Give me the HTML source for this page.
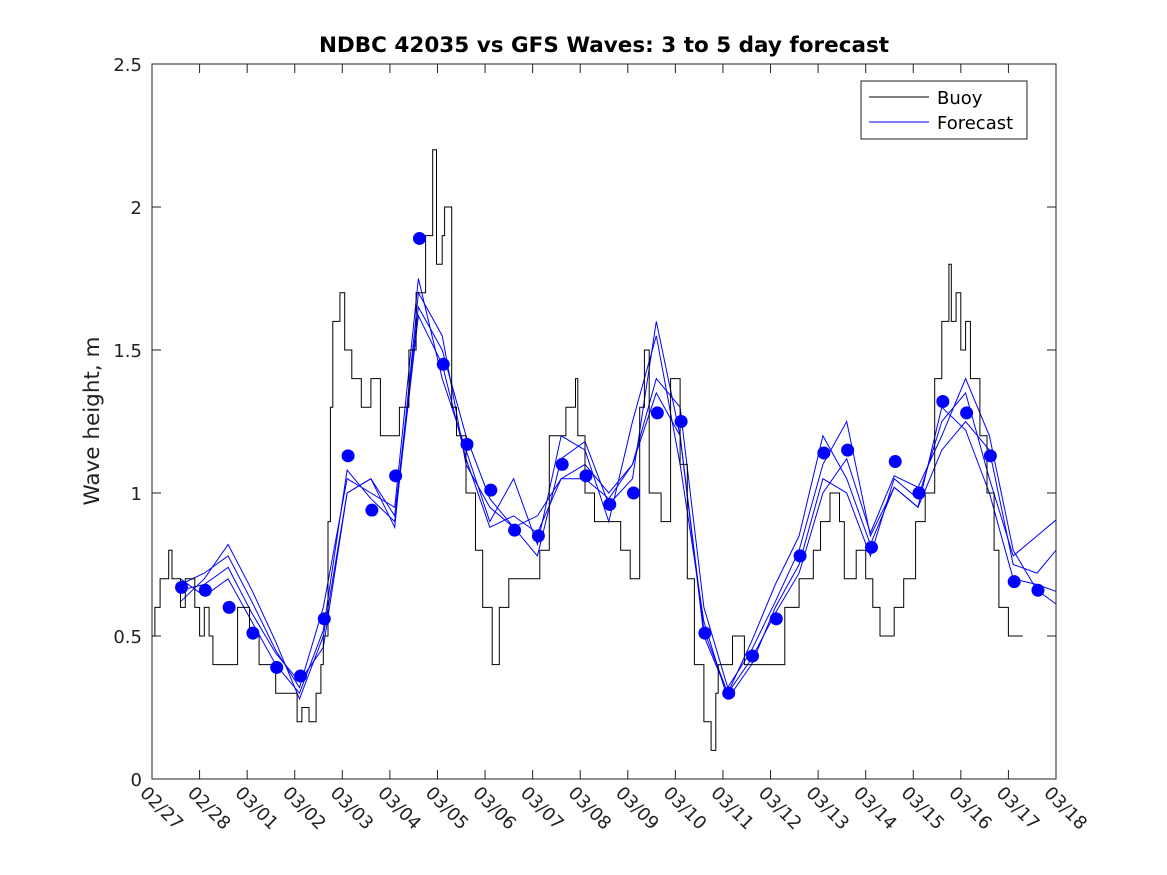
<!DOCTYPE html>
<html><head><meta charset="utf-8"><style>
body{margin:0;background:#fff}
svg{display:block;font-family:"DejaVu Sans","Liberation Sans",sans-serif}
</style></head><body>
<svg id="chart" width="1167" height="875" viewBox="0 0 1167 875">
<rect width="1167" height="875" fill="#fff"/>
<defs><clipPath id="pc"><rect x="152" y="64" width="904" height="715"/></clipPath></defs>
<text x="604" y="52" text-anchor="middle" font-size="21.5" font-weight="bold" fill="#000">NDBC 42035 vs GFS Waves: 3 to 5 day forecast</text>
<text transform="translate(99,421) rotate(-90)" text-anchor="middle" font-size="21.5" fill="#222">Wave height, m</text>
<g id="axes"></g>
<g id="series" clip-path="url(#pc)"></g>
<rect x="152" y="64" width="904" height="715" fill="none" stroke="#222" stroke-width="1"/>
<g>
<rect x="861" y="81" width="166" height="58" fill="#fff" stroke="#222"/>
<line x1="869" y1="97" x2="929" y2="97" stroke="#000"/>
<text x="937" y="104" font-size="18" fill="#000">Buoy</text>
<line x1="869" y1="122" x2="929" y2="122" stroke="#00f"/>
<text x="937" y="129" font-size="18" fill="#000">Forecast</text>
</g>
</svg>
<script>
const xTickLabels=["02/27","02/28","03/01","03/02","03/03","03/04","03/05","03/06","03/07","03/08","03/09","03/10","03/11","03/12","03/13","03/14","03/15","03/16","03/17","03/18"];
const yTicks=[0,0.5,1,1.5,2,2.5];
const yTickLabels=["0","0.5","1","1.5","2","2.5"];
const buoyDays=[0,0.06,0.17,0.35,0.42,0.6,0.7,0.9,1.0,1.1,1.2,1.28,1.8,2.05,2.25,2.5,2.6,2.9,3.05,3.15,3.3,3.45,3.55,3.6,3.7,3.75,3.8,3.95,4.05,4.2,4.4,4.6,4.8,4.9,5.2,5.4,5.55,5.75,5.9,5.98,6.1,6.15,6.3,6.4,6.6,6.8,6.95,7.15,7.3,7.5,7.85,8.15,8.35,8.7,8.9,8.95,9.1,9.3,9.6,9.85,10.05,10.25,10.35,10.45,10.7,10.9,11.1,11.25,11.4,11.6,11.75,11.85,11.9,12.0,12.2,12.45,13.0,13.3,13.6,13.9,14.05,14.25,14.45,14.55,14.8,15.0,15.15,15.3,15.6,15.8,16.05,16.25,16.45,16.6,16.75,16.8,16.9,17.0,17.1,17.2,17.4,17.55,17.7,17.8,18.0,18.3];
const buoyValues=[0.5,0.6,0.7,0.8,0.7,0.6,0.7,0.6,0.5,0.6,0.5,0.4,0.6,0.5,0.4,0.4,0.3,0.3,0.2,0.25,0.2,0.3,0.4,0.5,0.9,1.3,1.6,1.7,1.5,1.4,1.3,1.4,1.2,1.2,1.3,1.5,1.7,1.9,2.2,1.8,1.9,2.0,1.3,1.2,1.0,0.8,0.6,0.4,0.6,0.7,0.7,0.8,1.2,1.3,1.4,1.2,1.0,0.9,0.9,0.8,0.7,1.3,1.5,1.0,0.9,1.4,1.1,0.7,0.4,0.2,0.1,0.3,0.4,0.4,0.5,0.4,0.4,0.6,0.7,0.8,0.9,1.0,0.9,0.7,0.8,0.7,0.6,0.5,0.6,0.7,0.9,1.0,1.4,1.6,1.8,1.6,1.7,1.5,1.6,1.4,1.2,1.0,0.8,0.6,0.5,0.5,0.5];
const dotValues=[0.67,0.66,0.60,0.51,0.39,0.36,0.56,1.13,0.94,1.06,1.89,1.45,1.17,1.01,0.87,0.85,1.10,1.06,0.96,1.00,1.28,1.25,0.51,0.30,0.43,0.56,0.78,1.14,1.15,0.81,1.11,1.00,1.32,1.28,1.13,0.69,0.66];
const fc1=[.68,.72,.78,.62,.45,.32,.60,1.05,1.00,.95,1.75,1.40,1.15,.90,1.05,.82,1.20,1.15,.90,1.25,1.55,1.10,.55,.28,.40,.60,.75,1.05,1.00,.78,1.05,.98,1.25,1.35,1.05,.78,.85,.92];
const fc2=[.62,.70,.82,.66,.48,.28,.50,1.00,1.05,.88,1.70,1.55,1.10,.95,.88,.92,1.05,1.10,1.00,1.10,1.40,1.30,.60,.32,.45,.62,.80,1.10,1.25,.85,1.02,.95,1.15,1.25,1.15,.75,.72,.82];
const fc3=[.66,.68,.74,.58,.44,.34,.46,1.00,1.05,.92,1.65,1.50,1.20,.98,.88,.78,1.12,1.18,.96,1.05,1.60,1.20,.50,.30,.42,.58,.72,1.00,1.12,.86,1.06,1.02,1.20,1.40,1.20,.80,.66,.60];
const fc4=[.70,.64,.70,.55,.40,.30,.52,1.08,.98,.90,1.62,1.45,1.12,.88,.92,.86,1.05,1.05,.98,1.10,1.35,1.20,.52,.30,.48,.68,.85,1.20,1.05,.82,1.02,.95,1.30,1.22,1.00,.70,.68,.65];
const firstDotDay=0.6, dotStep=0.5;

const NS="http://www.w3.org/2000/svg";
const X0=152,X1=1056,Y0=779,Y1=64;
function xs(d){return X0+d*(X1-X0)/19;}
function ys(v){return Y0-v*(Y0-Y1)/2.5;}
function mk(t,a,p){const e=document.createElementNS(NS,t);for(const k in a)e.setAttribute(k,a[k]);p.appendChild(e);return e;}
const axes=document.getElementById('axes'),ser=document.getElementById('series');
xTickLabels.forEach((l,i)=>{const x=xs(i);
 let t=mk('line',{x1:x,y1:Y0,x2:x,y2:Y0-9,stroke:'#222'},axes);
 
 
 t=mk('line',{x1:x,y1:Y1,x2:x,y2:Y1+9,stroke:'#222'},axes);
 
 
 const tx=mk('text',{x:0,y:0,'font-size':18,fill:'#222',transform:`translate(${x-13},${Y0+15}) rotate(45)`},axes);
 tx.textContent=l;
 
 
});
yTicks.forEach((v,i)=>{const y=ys(v);
 let t=mk('line',{x1:X0,y1:y,x2:X0+9,y2:y,stroke:'#222'},axes);
 
 
 t=mk('line',{x1:X1,y1:y,x2:X1-9,y2:y,stroke:'#222'},axes);
 
 
 const tx=mk('text',{x:X0-10,y:y+7,'font-size':18,fill:'#222','text-anchor':'end'},axes);
 tx.textContent=yTickLabels[i];
 
 
});
[fc1,fc2,fc3,fc4].forEach((arr,k)=>{
 const pts=arr.map((v,i)=>xs(firstDotDay+dotStep*i).toFixed(1)+','+ys(v).toFixed(1)).join(' ');
 const p=mk('polyline',{points:pts,fill:'none',stroke:'#00f','stroke-width':1},ser);
 
 
});
let d='';
buoyDays.forEach((day,i)=>{const x=xs(day).toFixed(1),y=ys(buoyValues[i]).toFixed(1);
 if(i===0)d+=`M${x},${y}`;else d+=`H${x}V${y}`;});
const bp=mk('path',{d:d,fill:'none',stroke:'#000','stroke-width':1},ser);


dotValues.forEach((v,i)=>{
 const c=mk('circle',{cx:xs(firstDotDay+dotStep*i)+1,cy:ys(v),r:6.5,fill:'#00f'},ser);
 
 
});
</script>
</body></html>
